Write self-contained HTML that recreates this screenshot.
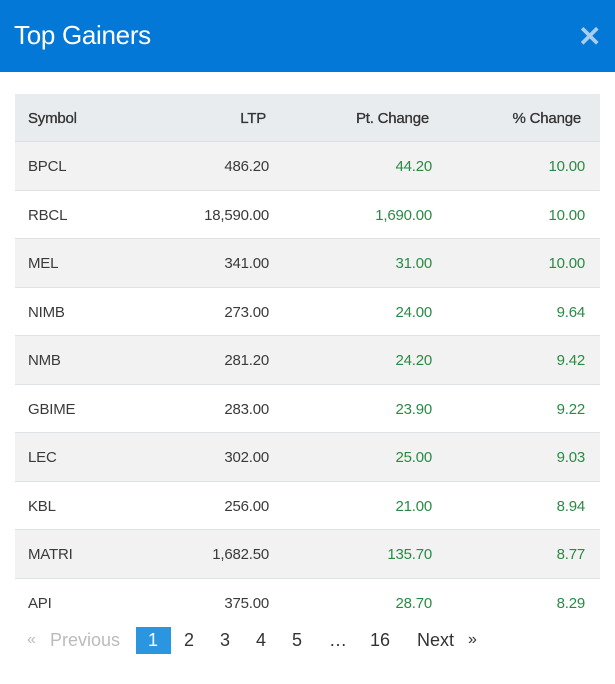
<!DOCTYPE html>
<html><head><style>
*{margin:0;padding:0;box-sizing:border-box}
body{width:615px;height:684px;background:#fff;font-family:"Liberation Sans",sans-serif;position:relative;overflow:hidden;color:#3a3a3a}
.hd{position:absolute;left:0;top:0;width:615px;height:72px;background:#0478d6}
.hd .t{position:absolute;left:14px;top:20px;color:#fff;font-size:26px;letter-spacing:-0.3px}
.hd .x{position:absolute;left:578px;top:20px;color:#a9cdef;font-size:28px;font-weight:bold}
.r{position:absolute;left:15px;width:585px;font-size:15px;letter-spacing:-0.2px}
.r span{position:absolute;top:0}
.s{left:13px}.l{right:331px}.p{right:168px}.c{right:15px}
.g{color:#2a8a45}
.pg{position:absolute;top:630px;font-size:18px;color:#333}
</style></head><body>
<div class="hd"><div class="t">Top Gainers</div><div class="x">✕</div></div>
<div class="r" style="top:94px;height:48px;background:#e9ecef;border-bottom:1px solid #dcdfe3;color:#333;-webkit-text-stroke:0.3px #333">
<span class="s" style="top:16px">Symbol</span><span class="l" style="top:16px;right:334px">LTP</span><span class="p" style="top:16px;right:171px">Pt. Change</span><span class="c" style="top:16px;right:19px">% Change</span></div>
<div id="rows"></div>
<script>
var d=[["BPCL","486.20","44.20","10.00"],["RBCL","18,590.00","1,690.00","10.00"],["MEL","341.00","31.00","10.00"],["NIMB","273.00","24.00","9.64"],["NMB","281.20","24.20","9.42"],["GBIME","283.00","23.90","9.22"],["LEC","302.00","25.00","9.03"],["KBL","256.00","21.00","8.94"],["MATRI","1,682.50","135.70","8.77"],["API","375.00","28.70","8.29"]];
var h="";d.forEach(function(r,i){var top=142+i*48.5;h+='<div class="r" style="top:'+top+'px;height:48.5px;background:'+(i%2==0?'#f2f2f2':'#fff')+';'+(i<9?'border-bottom:1px solid #dee2e6':'')+'"><span class="s" style="top:16px">'+r[0]+'</span><span class="l" style="top:16px">'+r[1]+'</span><span class="p g" style="top:16px">'+r[2]+'</span><span class="c g" style="top:16px">'+r[3]+'</span></div>';});
document.getElementById("rows").innerHTML=h;
</script>
<div class="pg" style="left:27px;color:#bbb;font-size:16px;top:631px">«</div>
<div class="pg" style="left:50px;color:#bbb">Previous</div>
<div style="position:absolute;left:136px;top:627px;width:35px;height:27px;background:#2a96e0"></div>
<div class="pg" style="left:148px;color:#fff">1</div>
<div class="pg" style="left:184px">2</div>
<div class="pg" style="left:220px">3</div>
<div class="pg" style="left:256px">4</div>
<div class="pg" style="left:292px">5</div>
<div class="pg" style="left:329px">…</div>
<div class="pg" style="left:370px">16</div>
<div class="pg" style="left:417px">Next</div>
<div class="pg" style="left:468px;font-size:16px;top:631px">»</div>
</body></html>
